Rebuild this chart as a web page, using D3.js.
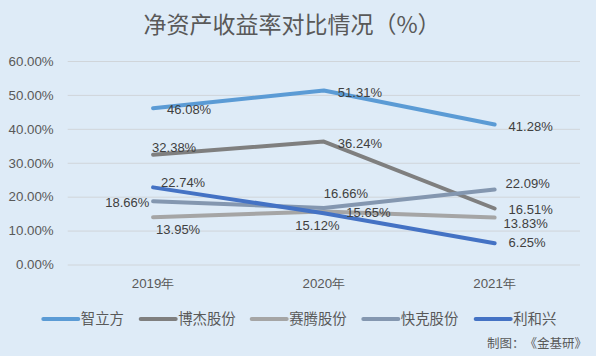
<!DOCTYPE html>
<html><head><meta charset="utf-8">
<script src="https://cdn.jsdelivr.net/npm/d3@7/dist/d3.min.js"></script>
<style>
html,body{margin:0;padding:0;background:#DEEBF7;}
svg{display:block;font-family:"Noto Sans CJK SC","Noto Sans",sans-serif;text-spacing-trim:space-all;}
</style></head>
<body>
<svg id="chart" width="596" height="356"></svg>
<script>
const title = "净资产收益率对比情况（%）";
const source = "制图：《金基研》";
const categories = ["2019年", "2020年", "2021年"];
const seriesNames = ["智立方", "博杰股份", "赛腾股份", "快克股份", "利和兴"];
const zhiLiFang = [46.08, 51.31, 41.28];
const boJie = [32.38, 36.24, 16.51];
const saiTeng = [13.95, 15.65, 13.83];
const kuaiKe = [18.66, 16.66, 22.09];
const liHeXing = [22.74, 15.12, 6.25];
const yTicks = [0, 10, 20, 30, 40, 50, 60];

const seriesValues = [zhiLiFang, boJie, saiTeng, kuaiKe, liHeXing];
const colors = ["#5B9BD5", "#7F7F7F", "#A5A5A5", "#8497B0", "#4472C4"];
// label placement offsets relative to the data point: [dx, dy, anchor]
const labelOffsets = [
  [[14,1,"start"],[14,1.5,"start"],[14,2,"start"]],
  [[-1,-7,"start"],[14,1.4,"start"],[14,1,"start"]],
  [[3,12.3,"start"],[22.5,1,"start"],[9,5.8,"start"]],
  [[-3.7,1,"end"],[0,-14.6,"start"],[11,-6,"start"]],
  [[8,-5,"start"],[-28.5,12,"start"],[14,-0.5,"start"]]
];

const svg = d3.select("#chart");
const W = 596, H = 356;
svg.append("rect").attr("width", W).attr("height", H).attr("fill", "#DEEBF7");

const x = d3.scaleBand().domain(categories).range([67.7, 580]).padding(0);
const y = d3.scaleLinear().domain([0, 60]).range([264.5, 61]);

// title
svg.append("text").attr("x", 292).attr("y", 25).attr("dy", "0.35em")
  .attr("text-anchor", "middle").attr("fill", "#595959")
  .attr("font-size", 23).text(title);

// gridlines + y axis
const yAxis = d3.axisLeft(y).tickValues(yTicks).tickSize(-(580 - 67.7))
  .tickFormat(d => d.toFixed(2) + "%").tickPadding(14);
const gy = svg.append("g").attr("transform", "translate(67.7,0)").call(yAxis);
gy.select(".domain").remove();
gy.selectAll(".tick line").attr("stroke", "#D0D5DA").attr("stroke-width", 1);
gy.selectAll(".tick text").attr("fill", "#595959").attr("font-size", 13.3)
  .attr("font-family", "'Liberation Sans', Arial, sans-serif");

// x axis labels
const xAxis = d3.axisBottom(x).tickSize(0).tickPadding(12);
const gx = svg.append("g").attr("transform", "translate(0,264.5)").call(xAxis);
gx.select(".domain").remove();
gx.selectAll(".tick text").attr("fill", "#595959").attr("font-size", 13.3)
  .attr("dy", "0.35em").attr("y", 19);

const cx = c => x(c) + x.bandwidth() / 2;
const line = d3.line().x((d, i) => cx(categories[i])).y(d => y(d));

seriesValues.forEach((vals, s) => {
  svg.append("path").datum(vals).attr("d", line)
    .attr("fill", "none").attr("stroke", colors[s]).attr("stroke-width", 4)
    .attr("stroke-linecap", "round").attr("stroke-linejoin", "round");
});

seriesValues.forEach((vals, s) => {
  vals.forEach((v, i) => {
    const o = labelOffsets[s][i];
    svg.append("text").attr("x", cx(categories[i]) + o[0]).attr("y", y(v) + o[1])
      .attr("dy", "0.35em").attr("text-anchor", o[2])
      .attr("fill", "#404040").attr("font-size", 13)
      .attr("font-family", "'Liberation Sans', Arial, sans-serif")
      .text(v.toFixed(2) + "%");
  });
});

// legend
const legendX = [43.3, 140.7, 251.7, 363.3, 475.7];
const lg = svg.append("g");
seriesNames.forEach((n, s) => {
  lg.append("line").attr("x1", legendX[s]).attr("x2", legendX[s] + 35)
    .attr("y1", 319).attr("y2", 319).attr("stroke", colors[s])
    .attr("stroke-width", 4).attr("stroke-linecap", "round");
  lg.append("text").attr("x", legendX[s] + 37.5).attr("y", 319).attr("dy", "0.35em")
    .attr("fill", "#595959").attr("font-size", 14.4).text(n);
});

svg.append("text").attr("x", 587).attr("y", 344).attr("dy", "0.35em")
  .attr("text-anchor", "end").attr("fill", "#595959").attr("font-size", 12.5).text(source);
</script>
</body></html>
